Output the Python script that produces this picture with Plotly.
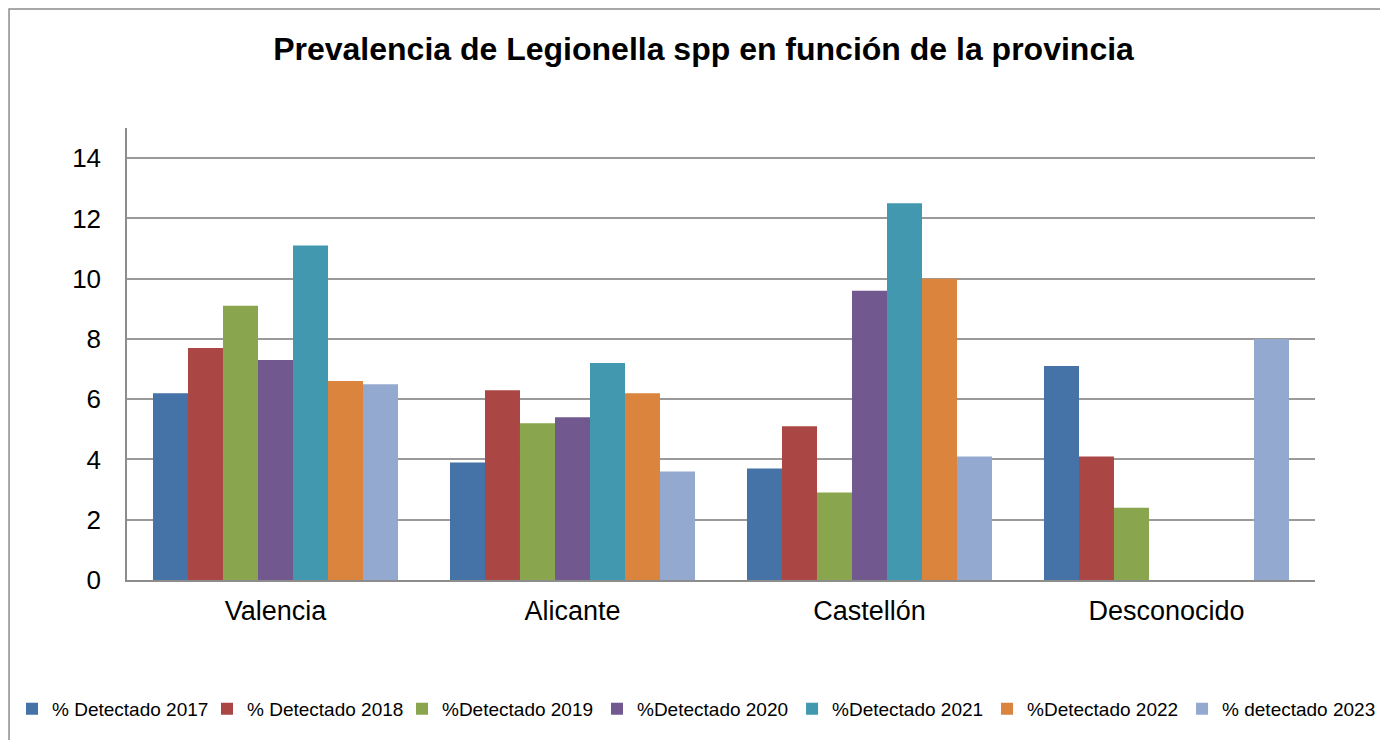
import plotly.graph_objects as go

# --- datos ---
provincias = ["Valencia", "Alicante", "Castellón", "Desconocido"]

series = [
    "% Detectado 2017",
    "% Detectado 2018",
    "%Detectado 2019",
    "%Detectado 2020",
    "%Detectado 2021",
    "%Detectado 2022",
    "% detectado 2023",
]

det_2017 = [6.2, 3.9, 3.7, 7.1]
det_2018 = [7.7, 6.3, 5.1, 4.1]
det_2019 = [9.1, 5.2, 2.9, 2.4]
det_2020 = [7.3, 5.4, 9.6, None]
det_2021 = [11.1, 7.2, 12.5, None]
det_2022 = [6.6, 6.2, 10.0, None]
det_2023 = [6.5, 3.6, 4.1, 8.0]

valores = [det_2017, det_2018, det_2019, det_2020, det_2021, det_2022, det_2023]
colores = ["#4572A7", "#AA4643", "#89A54E", "#71588F", "#4198AF", "#DB843D", "#93A9CF"]

fig = go.Figure()
for i, (nombre, vals, col) in enumerate(zip(series, valores, colores)):
    # la leyenda se reparte en dos bloques para que quepa en una sola fila
    fig.add_trace(go.Bar(x=provincias, y=vals, name=nombre,
                         legend="legend" if i < 4 else "legend2",
                         marker=dict(color=col, line=dict(width=0))))

leg = dict(orientation="h", xanchor="left", y=-0.285, yanchor="middle",
           font=dict(size=19), entrywidth=150, entrywidthmode="pixels",
           itemwidth=30, bgcolor="rgba(0,0,0,0)", traceorder="normal")

# la página añade 8 px de margen al body: la figura es 8 px más pequeña
fig.update_layout(
    width=1380, height=732,
    margin=dict(l=119, r=73, t=120, b=160, autoexpand=False),
    paper_bgcolor="white", plot_bgcolor="white",
    font=dict(family="Liberation Sans, Arial, sans-serif", color="black"),
    title=dict(text="<b>Prevalencia de Legionella spp en función de la provincia</b>",
               x=0.504, xanchor="center", y=0.9444, yanchor="middle",
               font=dict(size=32, color="black")),
    barmode="group", bargap=0.175, bargroupgap=0,
    showlegend=True,
    legend=dict(leg, x=-0.0968),
    legend2=dict(leg, x=0.5598),
)

fig.update_yaxes(range=[0, 15], tickvals=[0, 2, 4, 6, 8, 10, 12, 14],
                 showgrid=True, gridcolor="#9a9a9a", gridwidth=1.5,
                 showline=True, linecolor="#8c8c8c", linewidth=1.5,
                 ticks="", tickfont=dict(size=26), ticklabelstandoff=19,
                 zeroline=False)
fig.update_xaxes(showline=True, linecolor="#8c8c8c", linewidth=2,
                 ticks="", tickfont=dict(size=27), ticklabelstandoff=6,
                 showgrid=False)

# marco exterior del gráfico
fig.add_shape(type="rect", xref="paper", yref="paper",
              x0=-0.0993, x1=1.08, y0=-0.40, y1=1.263,
              line=dict(color="#8c8c8c", width=1.5), fillcolor="rgba(0,0,0,0)")

fig.write_html("out.html")
